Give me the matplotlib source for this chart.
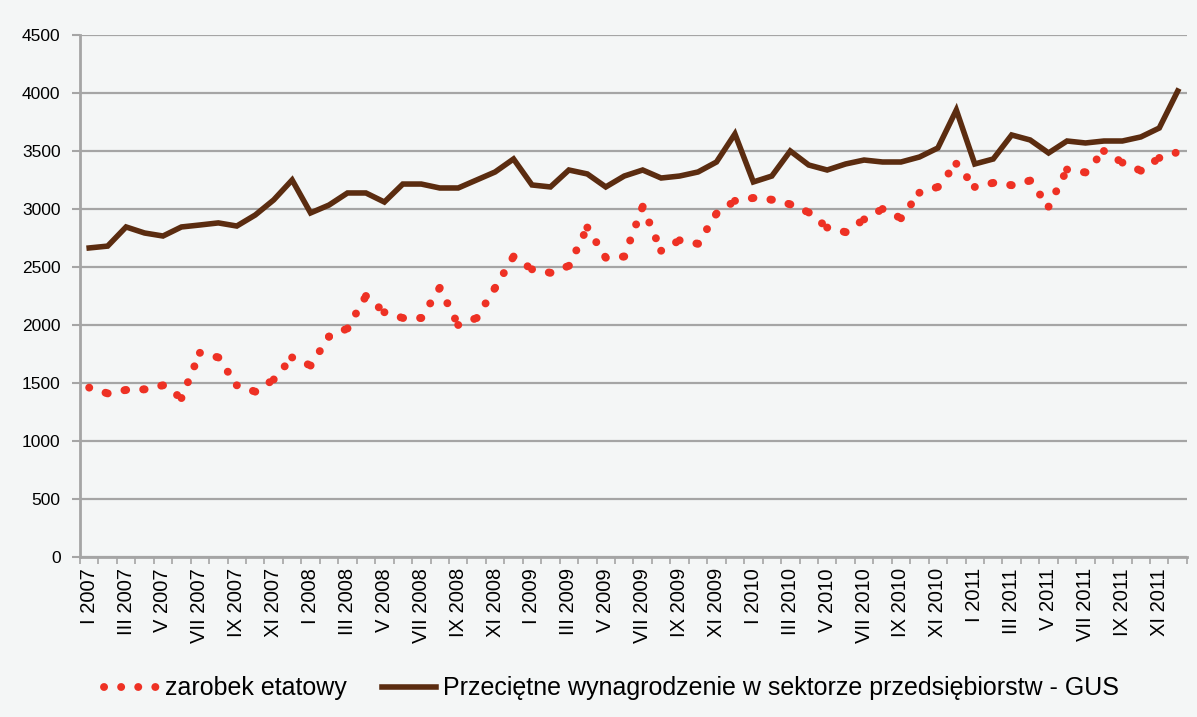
import numpy as np
import matplotlib.pyplot as plt

plt.rcParams['font.family'] = ['Liberation Sans', 'DejaVu Sans']

# Monthly data, I 2007 - XII 2011
roman = ["I", "II", "III", "IV", "V", "VI", "VII", "VIII", "IX", "X", "XI", "XII"]
years = [2007, 2008, 2009, 2010, 2011]
months = [f"{m} {y}" for y in years for m in roman]

zarobek = [1460, 1410, 1440, 1445, 1480, 1370, 1760, 1720, 1480, 1425,
           1530, 1720, 1650, 1900, 1970, 2250, 2110, 2060, 2060, 2320,
           2000, 2060, 2320, 2590, 2480, 2450, 2510, 2840, 2580, 2590,
           3020, 2640, 2730, 2700, 2960, 3070, 3095, 3080, 3040, 2970,
           2840, 2800, 2910, 3000, 2920, 3140, 3190, 3390, 3190, 3225,
           3205, 3245, 3020, 3340, 3315, 3500, 3400, 3330, 3440, 3490]

gus = [2664, 2680, 2845, 2793, 2767, 2845, 2862, 2880, 2853, 2948,
       3078, 3250, 2966, 3034, 3138, 3138, 3060, 3215, 3215, 3181,
       3181, 3250, 3319, 3431, 3207, 3190, 3336, 3302, 3190, 3284,
       3336, 3267, 3284, 3319, 3405, 3647, 3233, 3284, 3500, 3379,
       3336, 3388, 3422, 3405, 3405, 3448, 3526, 3853, 3388, 3431,
       3638, 3595, 3483, 3586, 3569, 3586, 3586, 3621, 3698, 4017]

bg = '#F4F6F6'
grid_col = '#A5A5A5'
red = '#EE3124'
brown = '#5B2C10'

fig = plt.figure(figsize=(11.97, 7.17), dpi=100, facecolor=bg)
ax = fig.add_axes([0.0668, 0.2232, 0.9248, 0.728])
ax.set_facecolor(bg)

x = np.arange(len(months))

# dotted series drawn segment by segment so every month starts a new dot run
for i in range(len(x) - 1):
    ax.plot(x[i:i + 2], zarobek[i:i + 2], color=red, lw=5.7,
            linestyle=(0, (0.01, 2.15)), dash_capstyle='round',
            label='zarobek etatowy' if i == 0 else None, zorder=3)
ax.plot(x, gus, color=brown, lw=4.0, solid_joinstyle='miter',
        label='Przeciętne wynagrodzenie w sektorze przedsiębiorstw - GUS', zorder=4)

ax.set_xlim(-0.5, len(months) - 0.5)
ax.set_ylim(0, 4500)
ax.set_yticks(np.arange(0, 4501, 500))
ax.yaxis.grid(True, color=grid_col, lw=1.6)
ax.set_axisbelow(True)

ax.set_xticks(x[::2])
ax.set_xticklabels(months[::2], rotation=90, fontsize=14.5)
ax.set_xticks(np.arange(-0.5, len(months)), minor=True)
ax.tick_params(axis='x', which='major', length=0, pad=8)
ax.tick_params(axis='x', which='minor', length=5, width=1.2, color=grid_col)
ax.tick_params(axis='y', length=6, width=1.5, color=grid_col, labelsize=12.5, pad=8)

for s in ['top', 'right']:
    ax.spines[s].set_visible(False)
for s in ['left', 'bottom']:
    ax.spines[s].set_color(grid_col)
    ax.spines[s].set_linewidth(2)

fig.legend(loc='center', bbox_to_anchor=(0.511, 0.04), ncol=2, frameon=False,
           fontsize=18, handlelength=2.15, handletextpad=0.3, columnspacing=1.4)

fig.savefig('out.png', dpi=100, facecolor=bg)
